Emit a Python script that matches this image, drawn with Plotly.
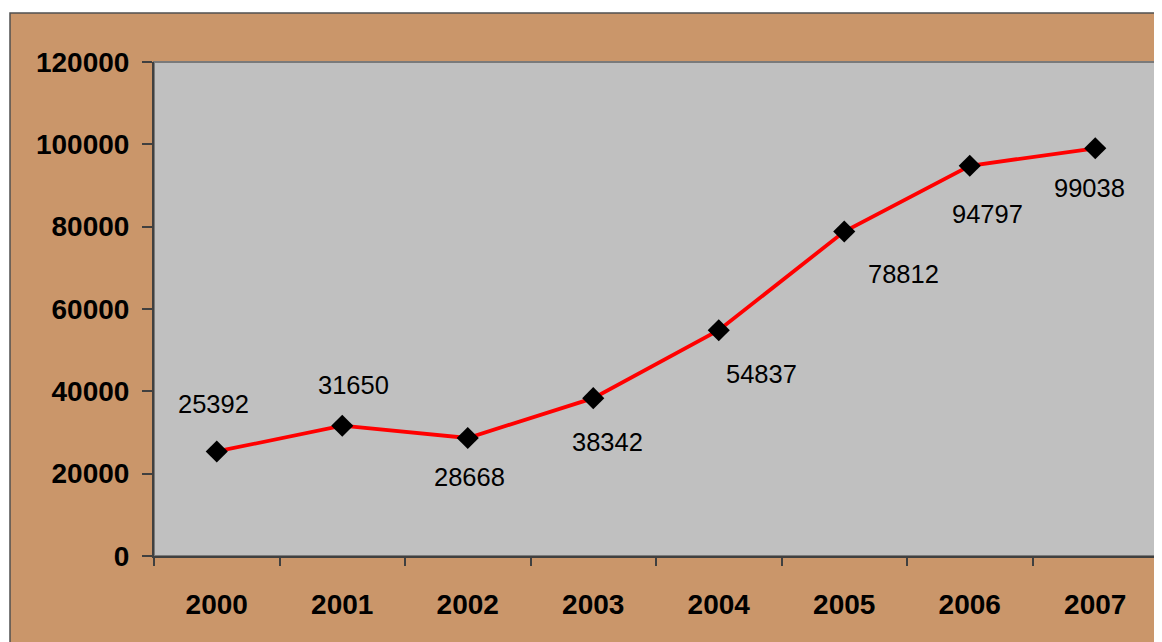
import plotly.graph_objects as go

# ---- data ----
years = ["2000", "2001", "2002", "2003", "2004", "2005", "2006", "2007"]
values = [25392, 31650, 28668, 38342, 54837, 78812, 94797, 99038]
y_ticks = [0, 20000, 40000, 60000, 80000, 100000, 120000]

# ---- label placement (pixels, style only) ----
label_dx = [-3, 11, 2, 14, 43, 59, 18, -6]
label_dy = [47, 41, -39, -44, -44, -42, -48, -40]

# page has an 8px body margin, so the figure is drawn 8px smaller/offset
OFF = 8
W, H = 1162 - OFF, 642 - OFF
ML, MR, MT, MB = 154 - OFF, 4, 62 - OFF, 86
PW, PH = W - ML - MR, H - MT - MB

BROWN = "#CA966A"
GRAY = "#C0C0C0"

fig = go.Figure()
fig.add_trace(go.Scatter(
    x=list(range(len(years))), y=values, mode="lines+markers",
    line=dict(color="#FF0000", width=3.8),
    marker=dict(symbol="diamond", size=17, color="black"),
    hoverinfo="y", showlegend=False,
))

for i, (v, dx, dy) in enumerate(zip(values, label_dx, label_dy)):
    fig.add_annotation(x=i, y=v, xref="x", yref="y", text=str(v), showarrow=False,
                       xshift=dx, yshift=dy,
                       font=dict(family="Liberation Sans, Arial", size=25.5, color="black"))

# figure frame (brown) and plot area
x0 = (10 - OFF - ML) / PW
y1 = (H - MB - (13 - OFF)) / PH
fig.add_shape(type="rect", xref="paper", yref="paper", layer="below",
              x0=x0, x1=1.05, y0=-MB / PH - 0.05, y1=y1,
              fillcolor=BROWN, line=dict(color="#505050", width=1.5))
fig.add_shape(type="rect", xref="paper", yref="paper", layer="below",
              x0=0, x1=1, y0=0, y1=1,
              fillcolor=GRAY, line=dict(color="#7A7A7A", width=2))

tickfont = dict(family="Liberation Sans, Arial", size=28, color="black", weight="bold")

fig.update_xaxes(type="linear", range=[-0.5, len(years) - 0.5],
                 tickvals=list(range(len(years))), ticktext=years,
                 ticks="", showline=True, linecolor="#404040", linewidth=2,
                 showgrid=False, zeroline=False, tickfont=tickfont,
                 ticklabelstandoff=22)
# boundary ticks on a second, overlaid axis
fig.update_layout(xaxis2=dict(overlaying="x", side="bottom", range=[-0.5, len(years) - 0.5],
                              tickvals=[i - 0.5 for i in range(len(years) + 1)],
                              ticktext=["" for _ in range(len(years) + 1)],
                              ticks="outside", ticklen=9, tickwidth=1.5, tickcolor="#404040",
                              showgrid=False, zeroline=False, showline=False))
fig.add_trace(go.Scatter(x=[], y=[], xaxis="x2", showlegend=False, hoverinfo="skip"))

fig.update_yaxes(range=[0, 120000], tickvals=y_ticks, ticktext=[str(t) for t in y_ticks],
                 ticks="outside", ticklen=10, tickwidth=1.5, tickcolor="#404040",
                 showline=True, linecolor="#404040", linewidth=2,
                 showgrid=False, zeroline=False, tickfont=tickfont,
                 ticklabelstandoff=7)

fig.update_layout(width=W, height=H,
                  margin=dict(l=ML, r=MR, t=MT, b=MB, pad=0),
                  paper_bgcolor="white", plot_bgcolor="rgba(0,0,0,0)",
                  font=dict(family="Liberation Sans, Arial"))

fig.write_html("out.html")
